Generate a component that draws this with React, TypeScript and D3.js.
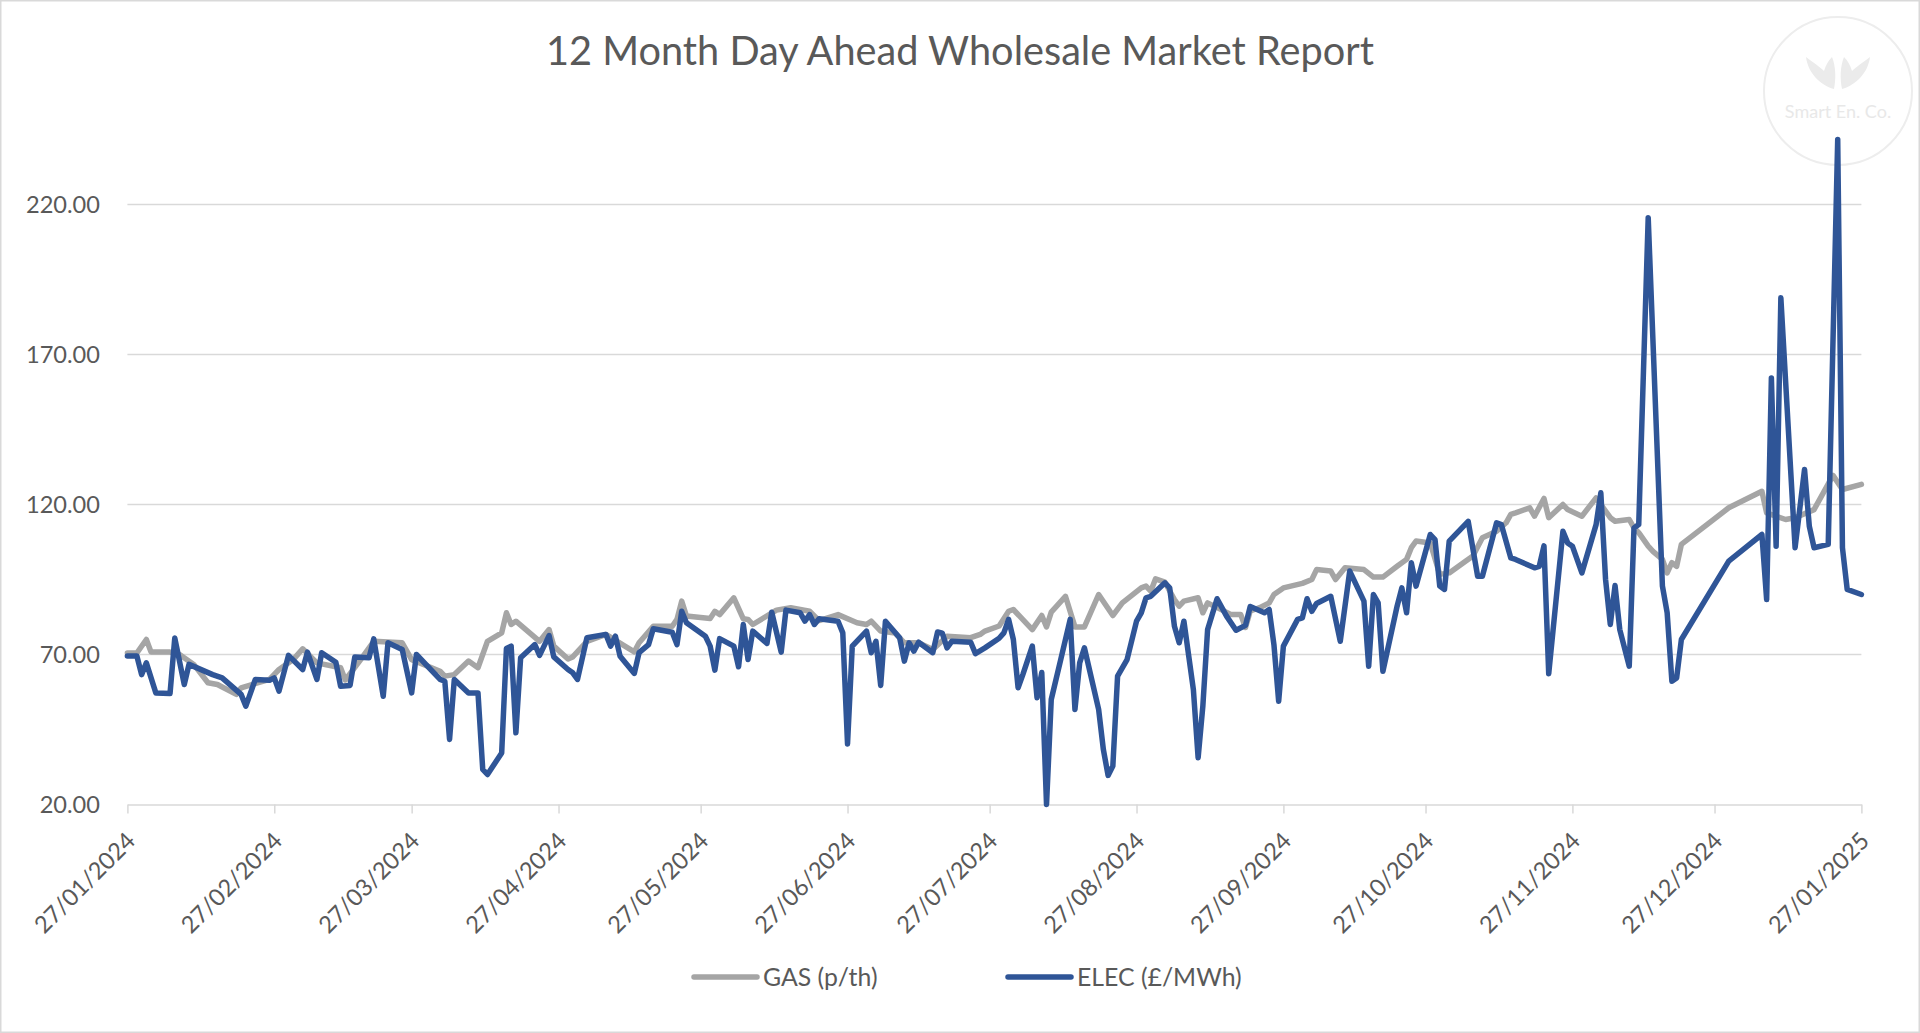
import React, { useEffect, useRef } from 'react';
import * as d3 from 'd3';

// GAS (p/th), day-ahead
const gasDates = [
  '2024-01-27', '2024-01-29', '2024-01-31', '2024-02-01', '2024-02-05', '2024-02-07', '2024-02-10', '2024-02-13',
  '2024-02-15', '2024-02-19', '2024-02-20', '2024-02-26', '2024-02-28', '2024-03-02', '2024-03-04', '2024-03-07',
  '2024-03-12', '2024-03-13', '2024-03-16', '2024-03-19', '2024-03-25', '2024-03-27', '2024-04-02', '2024-04-03',
  '2024-04-05', '2024-04-08', '2024-04-10', '2024-04-12', '2024-04-15', '2024-04-16', '2024-04-17', '2024-04-18',
  '2024-04-23', '2024-04-25', '2024-04-26', '2024-04-29', '2024-04-30', '2024-05-03', '2024-05-07', '2024-05-11',
  '2024-05-13', '2024-05-14', '2024-05-17', '2024-05-21', '2024-05-22', '2024-05-23', '2024-05-24', '2024-05-29',
  '2024-05-30', '2024-05-31', '2024-06-03', '2024-06-05', '2024-06-06', '2024-06-07', '2024-06-12', '2024-06-15',
  '2024-06-19', '2024-06-21', '2024-06-25', '2024-06-29', '2024-07-01', '2024-07-02', '2024-07-04', '2024-07-07',
  '2024-07-09', '2024-07-12', '2024-07-15', '2024-07-18', '2024-07-23', '2024-07-25', '2024-07-26', '2024-07-29',
  '2024-07-31', '2024-08-01', '2024-08-05', '2024-08-07', '2024-08-08', '2024-08-09', '2024-08-12', '2024-08-14',
  '2024-08-16', '2024-08-19', '2024-08-22', '2024-08-24', '2024-08-28', '2024-08-29', '2024-08-30', '2024-08-31',
  '2024-09-02', '2024-09-04', '2024-09-05', '2024-09-06', '2024-09-09', '2024-09-10', '2024-09-11', '2024-09-16',
  '2024-09-18', '2024-09-19', '2024-09-20', '2024-09-22', '2024-09-24', '2024-09-25', '2024-09-27', '2024-10-01',
  '2024-10-03', '2024-10-04', '2024-10-07', '2024-10-08', '2024-10-10', '2024-10-14', '2024-10-16', '2024-10-18',
  '2024-10-21', '2024-10-23', '2024-10-24', '2024-10-25', '2024-10-28', '2024-10-30', '2024-11-01', '2024-11-04',
  '2024-11-06', '2024-11-08', '2024-11-11', '2024-11-13', '2024-11-14', '2024-11-15', '2024-11-18', '2024-11-19',
  '2024-11-21', '2024-11-22', '2024-11-25', '2024-11-26', '2024-11-29', '2024-12-02', '2024-12-05', '2024-12-06',
  '2024-12-09', '2024-12-10', '2024-12-11', '2024-12-13', '2024-12-14', '2024-12-16', '2024-12-17', '2024-12-18',
  '2024-12-19', '2024-12-20', '2024-12-30', '2025-01-06', '2025-01-07', '2025-01-11', '2025-01-13', '2025-01-17',
  '2025-01-21', '2025-01-23', '2025-01-27',
];
const gasValues = [
  70.5, 70.5, 75, 70.8, 70.8, 70, 66.7, 60.6,
  60, 56.7, 58.9, 61.7, 65, 68.3, 71.9, 67.2,
  65.6, 61.5, 67.8, 74.4, 73.9, 68.3, 64.4, 62.8,
  63.3, 67.8, 65.6, 74.4, 77.2, 83.9, 80, 81.1,
  74.4, 78.3, 72.8, 68.5, 69.2, 74.4, 76.7, 72.8,
  70.9, 73.9, 79.4, 79.4, 81.7, 87.8, 82.8, 82,
  84.4, 83.3, 88.9, 81.9, 81.7, 80, 84.8, 85.6,
  84.4, 81.3, 83.3, 80.6, 80, 81.1, 77.8, 77.2,
  73.9, 73.9, 71.7, 76.1, 75.6, 76.7, 77.8, 79.5,
  84.4, 85, 78.3, 83, 79.2, 84.1, 89.4, 79.2,
  79.2, 90, 83, 87.2, 92.2, 92.8, 91.1, 95.2,
  94.1, 88.3, 86.1, 87.8, 88.9, 83.9, 87.2, 83.3,
  83.3, 79, 84.5, 85.6, 87.2, 90, 92.2, 93.7,
  95, 98.3, 97.8, 95, 98.9, 98.3, 95.8, 95.8,
  99.4, 101.7, 105.6, 107.8, 107.2, 96.7, 97.2, 100.6,
  102.8, 108.9, 111.1, 113.9, 116.7, 117.2, 118.9, 116.1,
  122, 115.6, 120, 118.3, 116.1, 122.2, 115.6, 114.4,
  115, 112.2, 110.6, 106.1, 104.4, 101.7, 97.2, 100.6,
  99.4, 106.7, 118.9, 124.4, 117.2, 115, 115.6, 118.3,
  129.7, 125, 126.7,
];

// ELEC (£/MWh), day-ahead
const elecDates = [
  '2024-01-27', '2024-01-29', '2024-01-30', '2024-01-31', '2024-02-02', '2024-02-05', '2024-02-06', '2024-02-08',
  '2024-02-09', '2024-02-14', '2024-02-16', '2024-02-20', '2024-02-21', '2024-02-23', '2024-02-26', '2024-02-27',
  '2024-02-28', '2024-03-01', '2024-03-04', '2024-03-05', '2024-03-07', '2024-03-08', '2024-03-11', '2024-03-12',
  '2024-03-14', '2024-03-15', '2024-03-18', '2024-03-19', '2024-03-21', '2024-03-22', '2024-03-25', '2024-03-27',
  '2024-03-28', '2024-04-02', '2024-04-03', '2024-04-04', '2024-04-05', '2024-04-08', '2024-04-10', '2024-04-11',
  '2024-04-12', '2024-04-15', '2024-04-16', '2024-04-17', '2024-04-18', '2024-04-19', '2024-04-22', '2024-04-23',
  '2024-04-25', '2024-04-26', '2024-04-29', '2024-04-30', '2024-05-01', '2024-05-03', '2024-05-07', '2024-05-08',
  '2024-05-09', '2024-05-10', '2024-05-13', '2024-05-14', '2024-05-16', '2024-05-17', '2024-05-21', '2024-05-22',
  '2024-05-23', '2024-05-24', '2024-05-28', '2024-05-29', '2024-05-30', '2024-05-31', '2024-06-03', '2024-06-04',
  '2024-06-05', '2024-06-06', '2024-06-07', '2024-06-10', '2024-06-11', '2024-06-13', '2024-06-14', '2024-06-17',
  '2024-06-18', '2024-06-19', '2024-06-20', '2024-06-21', '2024-06-25', '2024-06-26', '2024-06-27', '2024-06-28',
  '2024-07-01', '2024-07-02', '2024-07-03', '2024-07-04', '2024-07-05', '2024-07-08', '2024-07-09', '2024-07-10',
  '2024-07-11', '2024-07-12', '2024-07-15', '2024-07-16', '2024-07-17', '2024-07-18', '2024-07-19', '2024-07-23',
  '2024-07-24', '2024-07-26', '2024-07-29', '2024-07-30', '2024-07-31', '2024-08-01', '2024-08-02', '2024-08-03',
  '2024-08-05', '2024-08-06', '2024-08-07', '2024-08-08', '2024-08-09', '2024-08-11', '2024-08-13', '2024-08-14',
  '2024-08-15', '2024-08-16', '2024-08-19', '2024-08-20', '2024-08-21', '2024-08-22', '2024-08-23', '2024-08-25',
  '2024-08-27', '2024-08-28', '2024-08-29', '2024-08-30', '2024-09-02', '2024-09-03', '2024-09-04', '2024-09-05',
  '2024-09-06', '2024-09-08', '2024-09-09', '2024-09-10', '2024-09-11', '2024-09-13', '2024-09-15', '2024-09-17',
  '2024-09-19', '2024-09-20', '2024-09-23', '2024-09-24', '2024-09-25', '2024-09-26', '2024-09-27', '2024-09-30',
  '2024-10-01', '2024-10-02', '2024-10-03', '2024-10-04', '2024-10-07', '2024-10-09', '2024-10-11', '2024-10-14',
  '2024-10-15', '2024-10-16', '2024-10-17', '2024-10-18', '2024-10-21', '2024-10-22', '2024-10-23', '2024-10-24',
  '2024-10-25', '2024-10-28', '2024-10-29', '2024-10-30', '2024-10-31', '2024-11-01', '2024-11-05', '2024-11-07',
  '2024-11-08', '2024-11-11', '2024-11-12', '2024-11-14', '2024-11-15', '2024-11-19', '2024-11-20', '2024-11-21',
  '2024-11-22', '2024-11-25', '2024-11-26', '2024-11-27', '2024-11-29', '2024-12-02', '2024-12-03', '2024-12-04',
  '2024-12-05', '2024-12-06', '2024-12-07', '2024-12-09', '2024-12-10', '2024-12-11', '2024-12-13', '2024-12-16',
  '2024-12-17', '2024-12-18', '2024-12-19', '2024-12-20', '2024-12-30', '2025-01-06', '2025-01-07', '2025-01-08',
  '2025-01-09', '2025-01-10', '2025-01-13', '2025-01-15', '2025-01-16', '2025-01-17', '2025-01-20', '2025-01-22',
  '2025-01-23', '2025-01-24', '2025-01-27',
];
const elecValues = [
  69.5, 69.5, 63.3, 67.2, 57.2, 57, 75.5, 60,
  66.7, 63.3, 62.2, 56.7, 52.8, 61.7, 61.4, 62.2,
  57.8, 69.7, 65, 70.8, 61.7, 70.6, 67.4, 59.4,
  59.7, 69.2, 68.9, 75.2, 56.1, 73.9, 71.7, 57.2,
  70, 61.7, 61.1, 41.7, 61.7, 57.2, 57.2, 31.7,
  30, 37.2, 72, 72.8, 43.9, 68.9, 73.3, 69.7,
  76.3, 69.2, 65, 63.9, 61.7, 75.6, 76.7, 72.8,
  76.1, 69.4, 63.7, 70.6, 73.3, 78.6, 77.4, 73.3,
  84.4, 80.6, 76.1, 72.8, 64.8, 75.3, 72.8, 65.9,
  80, 68.3, 77.8, 73.7, 84.1, 70.8, 84.8, 83.9,
  81.1, 83.3, 80, 81.9, 81.1, 77.2, 40.2, 72.8,
  77.8, 70.6, 74.4, 59.7, 81.1, 75.6, 67.8, 73.9,
  71.1, 74.1, 70.6, 77.5, 77.1, 72.2, 74.4, 74.1,
  70.3, 72.2, 75.4, 77.2, 81.7, 75, 58.9, 63.3,
  72.8, 55.6, 64, 20, 55, 68.3, 81.7, 51.7,
  67.2, 72.2, 51.7, 38.3, 29.7, 32.8, 62.8, 68.3,
  81.1, 83.9, 88.9, 89.4, 93.9, 92.2, 79.4, 73.9,
  81.1, 58.3, 35.6, 52.8, 78.3, 88.6, 82.8, 78.1,
  79.7, 86, 83.9, 85, 73.3, 54.4, 72.8, 81.7,
  82.2, 88.6, 84.4, 87, 89.4, 74.4, 97.8, 87.8,
  66.1, 90, 87.2, 64.4, 86.1, 92.2, 83.9, 100.6,
  92.8, 110, 108.3, 92.8, 91.7, 107.8, 114.4, 96.1,
  96.1, 113.9, 113.3, 102.2, 101.7, 98.9, 99.4, 106.2,
  63.6, 111.1, 107.2, 106.1, 97.2, 113.3, 123.9, 95,
  80, 93, 78.3, 66.1, 112.2, 113.3, 215.6, 92.8,
  83.9, 61.1, 62.2, 75, 101.1, 110, 88.3, 162.2,
  106.1, 188.9, 105.6, 131.7, 112.8, 105.6, 106.7, 241.7,
  105.6, 91.7, 90,
];

const yTicks = [20, 70, 120, 170, 220];
const xTicks = [
  '2024-01-27', '2024-02-27', '2024-03-27', '2024-04-27', '2024-05-27', '2024-06-27', '2024-07-27',
  '2024-08-27', '2024-09-27', '2024-10-27', '2024-11-27', '2024-12-27', '2025-01-27',
];
const seriesNames = ['GAS (p/th)', 'ELEC (£/MWh)'];
const seriesColors = ['#A5A5A5', '#2F5597'];
const title = '12 Month Day Ahead Wholesale Market Report';

const W = 1920;
const H = 1033;
const FONT = 'Lato, "Open Sans", sans-serif';

const App: React.FC = () => {
  const ref = useRef<SVGSVGElement>(null);

  useEffect(() => {
    const parse = d3.utcParse('%Y-%m-%d');
    const svg = d3.select(ref.current);
    svg.selectAll('*').remove();

    const x = d3.scaleUtc()
      .domain([parse(xTicks[0])!, parse(xTicks[xTicks.length - 1])!])
      .range([127.4, 1861.4]);
    const y = d3.scaleLinear().domain([20, 220]).range([804.5, 204.5]);

    // chart border
    svg.append('rect')
      .attr('x', 0.75).attr('y', 0.75)
      .attr('width', W - 1.5).attr('height', H - 1.5)
      .attr('fill', '#fff').attr('stroke', '#D9D9D9').attr('stroke-width', 1.5);

    // title
    svg.append('text')
      .attr('x', 960).attr('y', 65)
      .attr('text-anchor', 'middle')
      .attr('font-family', FONT).attr('font-size', 39.7)
      .attr('fill', '#595959')
      .text(title);

    // watermark logo
    const logo = svg.append('g').attr('transform', 'translate(1838,91)');
    logo.append('circle').attr('r', 74).attr('fill', 'none')
      .attr('stroke', '#EDEDED').attr('stroke-width', 2);
    logo.append('path')
      .attr('d', 'M-4,-2 C-18,-6 -30,-18 -32,-34 C-24,-28 -18,-24 -14,-20 C-12,-26 -10,-30 -6,-34 C-2,-24 -2,-12 -4,-2 Z')
      .attr('fill', '#EBEBEB');
    logo.append('path')
      .attr('d', 'M4,-2 C18,-6 30,-18 32,-34 C24,-28 18,-24 14,-20 C12,-26 10,-30 6,-34 C2,-24 2,-12 4,-2 Z')
      .attr('fill', '#EBEBEB');
    logo.append('text')
      .attr('y', 27).attr('text-anchor', 'middle')
      .attr('font-family', FONT).attr('font-size', 18)
      .attr('fill', '#E8E8E8')
      .text('Smart En. Co.');

    // gridlines
    svg.append('g')
      .selectAll('line')
      .data(yTicks.slice(1))
      .enter()
      .append('line')
      .attr('x1', x.range()[0]).attr('x2', x.range()[1])
      .attr('y1', d => y(d)).attr('y2', d => y(d))
      .attr('stroke', '#D9D9D9').attr('stroke-width', 1.5);

    // y axis labels
    const yAxis = svg.append('g')
      .attr('transform', 'translate(110,0)')
      .call(d3.axisLeft(y).tickValues(yTicks).tickFormat(d3.format('.2f')).tickSize(0));
    yAxis.select('.domain').remove();
    yAxis.selectAll('text')
      .attr('font-family', FONT).attr('font-size', 23.6)
      .attr('fill', '#595959').attr('x', -10);

    // x axis
    const xAxis = svg.append('g')
      .attr('transform', `translate(0,${y(20)})`)
      .call(d3.axisBottom(x)
        .tickValues(xTicks.map(d => parse(d)!))
        .tickFormat(d3.utcFormat('%d/%m/%Y') as any)
        .tickSizeInner(9).tickSizeOuter(0));
    xAxis.select('.domain').attr('stroke', '#D9D9D9').attr('stroke-width', 1.5);
    xAxis.selectAll('.tick line').attr('stroke', '#D9D9D9').attr('stroke-width', 1.5);
    xAxis.selectAll('.tick text')
      .attr('font-family', FONT).attr('font-size', 23.6)
      .attr('fill', '#595959')
      .attr('text-anchor', 'end')
      .attr('x', 0).attr('y', 0).attr('dy', '0.35em')
      .attr('transform', 'translate(3,32) rotate(-45)');

    // series lines
    const line = d3.line<[Date, number]>()
      .x(d => x(d[0]))
      .y(d => y(d[1]))
      .curve(d3.curveLinear);

    const series = [
      gasDates.map((d, i) => [parse(d)!, gasValues[i]] as [Date, number]),
      elecDates.map((d, i) => [parse(d)!, elecValues[i]] as [Date, number]),
    ];

    svg.append('g')
      .selectAll('path')
      .data(series)
      .enter()
      .append('path')
      .attr('d', d => line(d))
      .attr('fill', 'none')
      .attr('stroke', (d, i) => seriesColors[i])
      .attr('stroke-width', 5.5)
      .attr('stroke-linejoin', 'round')
      .attr('stroke-linecap', 'round');

    // legend
    const legendX = [694, 1008];
    const legend = svg.append('g')
      .selectAll('g')
      .data(seriesNames)
      .enter()
      .append('g')
      .attr('transform', (d, i) => `translate(${legendX[i]},977)`);
    legend.append('line')
      .attr('x1', 0).attr('x2', 63)
      .attr('stroke', (d, i) => seriesColors[i])
      .attr('stroke-width', 5.5)
      .attr('stroke-linecap', 'round');
    legend.append('text')
      .attr('x', 69).attr('dy', '0.35em')
      .attr('font-family', FONT).attr('font-size', 24.8)
      .attr('fill', '#595959')
      .text(d => d);
  }, []);

  return (
    <svg
      ref={ref}
      width={W}
      height={H}
      style={{ position: 'absolute', left: 0, top: 0, background: '#fff' }}
    />
  );
};

export default App;
